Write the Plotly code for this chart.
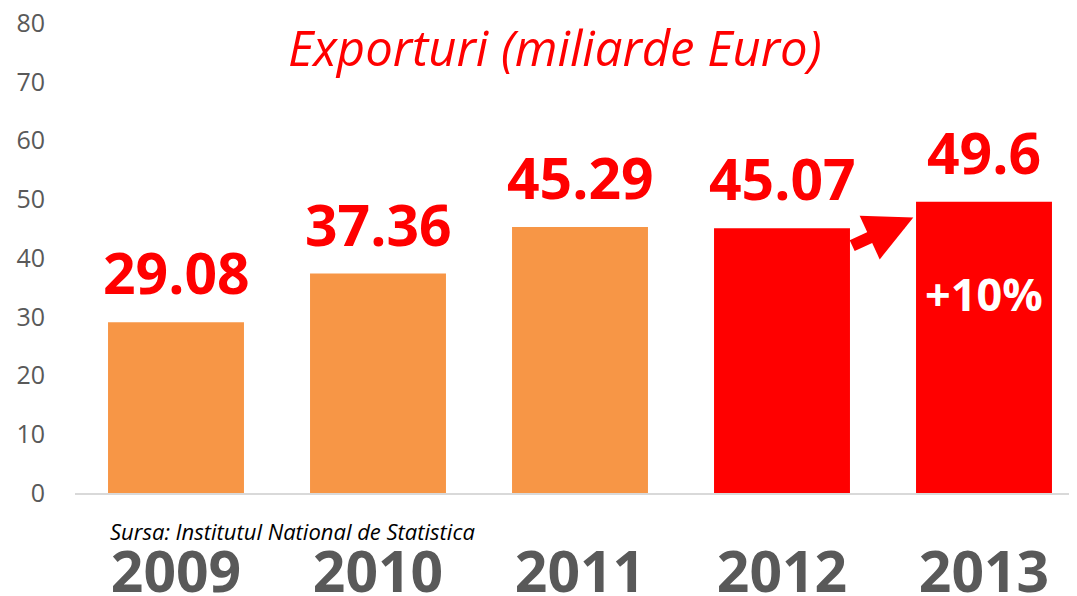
import plotly.graph_objects as go

years = ["2009", "2010", "2011", "2012", "2013"]
exports = [29.08, 37.36, 45.29, 45.07, 49.6]
value_labels = ["29.08", "37.36", "45.29", "45.07", "49.6"]
bar_colors = ["#F79646", "#F79646", "#F79646", "#FF0000", "#FF0000"]
y_ticks = [0, 10, 20, 30, 40, 50, 60, 70, 80]
title_text = "Exporturi (miliarde Euro)"
source_text = "Sursa: Institutul National de Statistica"
growth_text = "+10%"

FONT = "Open Sans"
OFF = 8  # default page body margin
W, H = 1077 - OFF, 596 - OFF
L, T, B = 75 - OFF, 23 - OFF, 103
pw, ph = W - L, H - T - B


def px_x(p):
    return (p - OFF - L) / pw


def px_y(p):
    return 1 - (p - OFF - T) / ph


fig = go.Figure()
fig.add_trace(go.Bar(
    x=list(range(len(years))), y=exports,
    marker=dict(color=bar_colors, line=dict(width=0)),
    width=0.673, hoverinfo="skip",
))

# value labels above bars
for i, (v, t) in enumerate(zip(exports, value_labels)):
    fig.add_annotation(x=i, y=v, text=f"<b>{t}</b>", showarrow=False,
                       xanchor="center", yanchor="bottom", yshift=9,
                       font=dict(family=FONT, size=57, color="#FF0000"))

# growth label inside last bar
fig.add_annotation(x=len(years) - 1, y=34, text=f"<b>{growth_text}</b>", showarrow=False,
                   xanchor="center", yanchor="middle",
                   font=dict(family=FONT, size=45, color="#FFFFFF"))

# arrow from 2012 to 2013
fig.add_annotation(x=3.65, y=46.9, ax=3.34, ay=42.0, xref="x", yref="y",
                   axref="x", ayref="y", text="", showarrow=True,
                   arrowhead=2, arrowsize=0.8, arrowwidth=12, arrowcolor="#FF0000")

# title
fig.add_annotation(x=px_x(555), y=px_y(47), xref="paper", yref="paper",
                   text=f"<i>{title_text}</i>", showarrow=False,
                   xanchor="center", yanchor="middle",
                   font=dict(family=FONT, size=49, color="#FF0000"))

# source
fig.add_annotation(x=px_x(108), y=px_y(531), xref="paper", yref="paper",
                   text=f"<i>{source_text}</i>", showarrow=False,
                   xanchor="left", yanchor="middle",
                   font=dict(family=FONT, size=22, color="#000000"))

fig.update_layout(
    width=W, height=H,
    margin=dict(l=L, r=0, t=T, b=B, pad=0, autoexpand=False),
    plot_bgcolor="white", paper_bgcolor="white",
    showlegend=False,
    xaxis=dict(range=[-0.5, -0.5 + pw / 202], tickmode="array",
               tickvals=list(range(len(years))), ticktext=years,
               showgrid=False, zeroline=False, showline=True, automargin=False,
               linecolor="#D9D9D9", linewidth=1.5, ticks="",
               ticklabelstandoff=29, ticklabeloverflow="allow",
               tickfont=dict(family=FONT, size=57, color="#595959", weight="bold")),
    yaxis=dict(range=[0, 80.02], tickmode="array", tickvals=y_ticks,
               showgrid=False, zeroline=False, showline=False, ticks="",
               automargin=False, ticklabelstandoff=29, ticklabeloverflow="allow",
               tickfont=dict(family=FONT, size=25, color="#595959")),
)

fig.write_html("out.html")
